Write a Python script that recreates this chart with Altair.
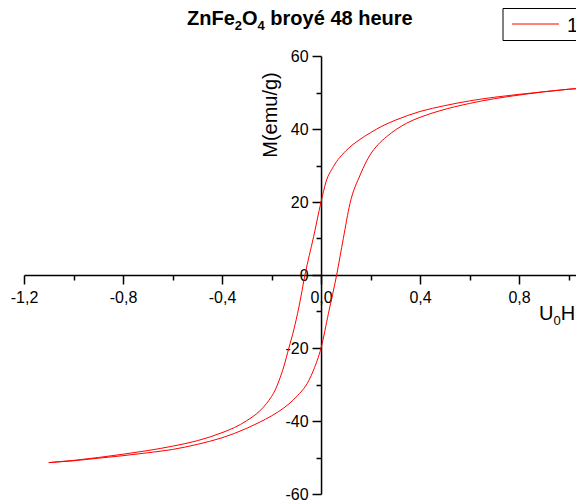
import altair as alt
import pandas as pd

# title pieces: (text, is_subscript)
title_parts = [("ZnFe", False), ("2", True), ("O", False), ("4", True), (" broyé 48 heure", False)]
x_title_parts = [("U", False), ("0", True), ("H(T)", False)]
y_title = "M(emu/g)"
series_name = "15 K"

# descending-field branch
desc_H = [1.10, 1.00, 0.90, 0.80, 0.70, 0.60, 0.50, 0.40, 0.30, 0.25, 0.20, 0.15, 0.10, 0.05, 0.02, 0.00,
          -0.03, -0.065, -0.09, -0.11, -0.13, -0.15, -0.17, -0.185, -0.20, -0.22, -0.25, -0.30, -0.35,
          -0.40, -0.50, -0.60, -0.70, -0.80, -0.90, -1.00, -1.10]
desc_M = [51.4, 50.9, 50.2, 49.5, 48.7, 47.7, 46.4, 44.8, 42.4, 40.9, 39.0, 36.8, 34.0, 29.7, 25.5, 20.0,
          10.5, 0.0, -9.0, -15.0, -20.0, -25.0, -29.0, -31.5, -33.3, -35.2, -37.4, -39.9, -41.8,
          -43.2, -45.4, -46.9, -48.1, -49.1, -50.0, -50.8, -51.4]
# ascending-field branch
asc_H = [-1.10, -1.00, -0.90, -0.80, -0.70, -0.60, -0.50, -0.40, -0.35, -0.30, -0.25, -0.20, -0.15, -0.10,
         -0.05, -0.03, 0.00, 0.03, 0.063, 0.09, 0.117, 0.158, 0.18, 0.198, 0.23, 0.265, 0.346, 0.40, 0.48,
         0.60, 0.70, 0.80, 0.90, 1.00, 1.10]
asc_M = [-51.4, -50.9, -50.2, -49.5, -48.7, -47.8, -46.4, -44.6, -43.4, -42.0, -40.4, -38.6, -36.4, -33.4,
         -29.0, -26.0, -20.0, -10.5, 0.0, 10.0, 19.6, 27.4, 30.7, 32.9, 35.7, 37.9, 41.6, 43.2, 45.0,
         47.0, 48.3, 49.3, 50.2, 50.9, 51.4]

x_ticks = [-1.2, -1.0, -0.8, -0.6, -0.4, -0.2, 0.0, 0.2, 0.4, 0.6, 0.8, 1.0]
y_ticks = [-60, -50, -40, -30, -20, -10, 0, 10, 20, 30, 40, 50, 60]
x_domain = [-1.2, 1.03]
y_domain = [-60, 60]

df = pd.concat([
    pd.DataFrame({"H": desc_H, "M": desc_M, "branch": "desc"}),
    pd.DataFrame({"H": asc_H, "M": asc_M, "branch": "asc"}),
])

FONT = "Liberation Sans"
W, Hh = 552, 438
X0 = W * (0 - x_domain[0]) / (x_domain[1] - x_domain[0])  # pixel of H=0

x_label_expr = ("abs(round(datum.value*10)) % 4 === 0 ? (datum.value < -0.001 ? '-' : '') + "
                "replace(format(abs(datum.value), '.1f'), '.', ',') : ''")
y_label_expr = ("abs(datum.value) % 20 === 0 ? (datum.value < 0 ? '-' : '') + "
                "format(abs(datum.value), 'd') : ''")

x_axis = alt.Axis(values=x_ticks, orient="bottom", offset=-Hh / 2, title=None, grid=False,
                  labelExpr=x_label_expr, labelFlush=False, labelOverlap=False,
                  tickSize={"condition": {"test": "abs(round(datum.value*10)) % 4 === 0", "value": 9}, "value": 5},
                  domainColor="black", tickColor="black", labelColor="black", domainWidth=1.5, tickWidth=1.5,
                  labelFont=FONT, labelFontSize=16, labelPadding=5)
y_axis = alt.Axis(values=y_ticks, orient="left", offset=-X0, title=None, grid=False,
                  labelExpr=y_label_expr, labelFlush=False, labelOverlap=False,
                  tickSize={"condition": {"test": "abs(datum.value) % 20 === 0", "value": 9}, "value": 5},
                  domainColor="black", tickColor="black", labelColor="black", domainWidth=1.5, tickWidth=1.5,
                  labelFont=FONT, labelFontSize=16, labelPadding=4)

lines = alt.Chart(df).mark_line(color="red", strokeWidth=1, interpolate="monotone", clip=True).encode(
    x=alt.X("H:Q", scale=alt.Scale(domain=x_domain, nice=False, zero=False), axis=x_axis),
    y=alt.Y("M:Q", scale=alt.Scale(domain=y_domain, nice=False, zero=False), axis=y_axis),
    detail="branch:N",
)

def txt(s, x, y, **kw):
    return alt.Chart(pd.DataFrame({"t": [s]})).mark_text(font=FONT, color="black", **kw).encode(
        x=alt.value(x), y=alt.value(y), text="t:N")

# Arial/Liberation advance widths (em) for laying out the subscripted pieces
BOLD_W = {"Z": .611, "n": .611, "F": .611, "e": .556, "O": .778, " ": .278, "b": .611, "r": .389,
          "o": .611, "y": .556, "é": .556, "h": .611, "u": .611, "2": .556, "4": .556, "8": .556}
REG_W = {"U": .722, "H": .722, "(": .333, "T": .611, ")": .333, "0": .556}

def pieces(parts, x, y, size, sub_size, sub_drop, widths, **kw):
    layers = []
    for s, sub in parts:
        fs = sub_size if sub else size
        lead = len(s) - len(s.lstrip(" "))
        x += lead * widths[" "] * fs if lead else 0
        s = s.lstrip(" ")
        layers.append(txt(s, x, y + (sub_drop if sub else 0), fontSize=fs, align="left",
                          baseline="alphabetic", **kw))
        x += sum(widths.get(c, .556) for c in s) * fs
    return layers

title_layers = pieces(title_parts, 163, -31, 20, 13, 5, BOLD_W, fontWeight="bold")
xtitle_layers = pieces(x_title_parts, 515, 264, 20, 13, 5, dict(REG_W, **{" ": .278}))
ytitle = txt(y_title, 247, 59, fontSize=20, angle=270, align="center", baseline="middle")

one = pd.DataFrame({"a": [0]})
leg_box = alt.Chart(one).mark_rect(fill="white", stroke="black", strokeWidth=1).encode(
    x=alt.value(479), x2=alt.value(650), y=alt.value(-47.5), y2=alt.value(-15.5))
leg_line = alt.Chart(one).mark_rule(color="red", strokeWidth=1).encode(
    x=alt.value(488), x2=alt.value(535), y=alt.value(-32))
leg_text = txt(series_name, 543, -24, fontSize=20, align="left", baseline="alphabetic")

chart = alt.layer(lines, *title_layers, ytitle, *xtitle_layers, leg_box, leg_line, leg_text).properties(
    width=W, height=Hh,
    padding={"left": 16, "top": 48, "right": 0, "bottom": 7},
    autosize=alt.AutoSizeParams(type="none"),
    background="white",
).configure_view(stroke=None)

chart.save("out.html", embed_options={"renderer": "svg", "actions": False})
